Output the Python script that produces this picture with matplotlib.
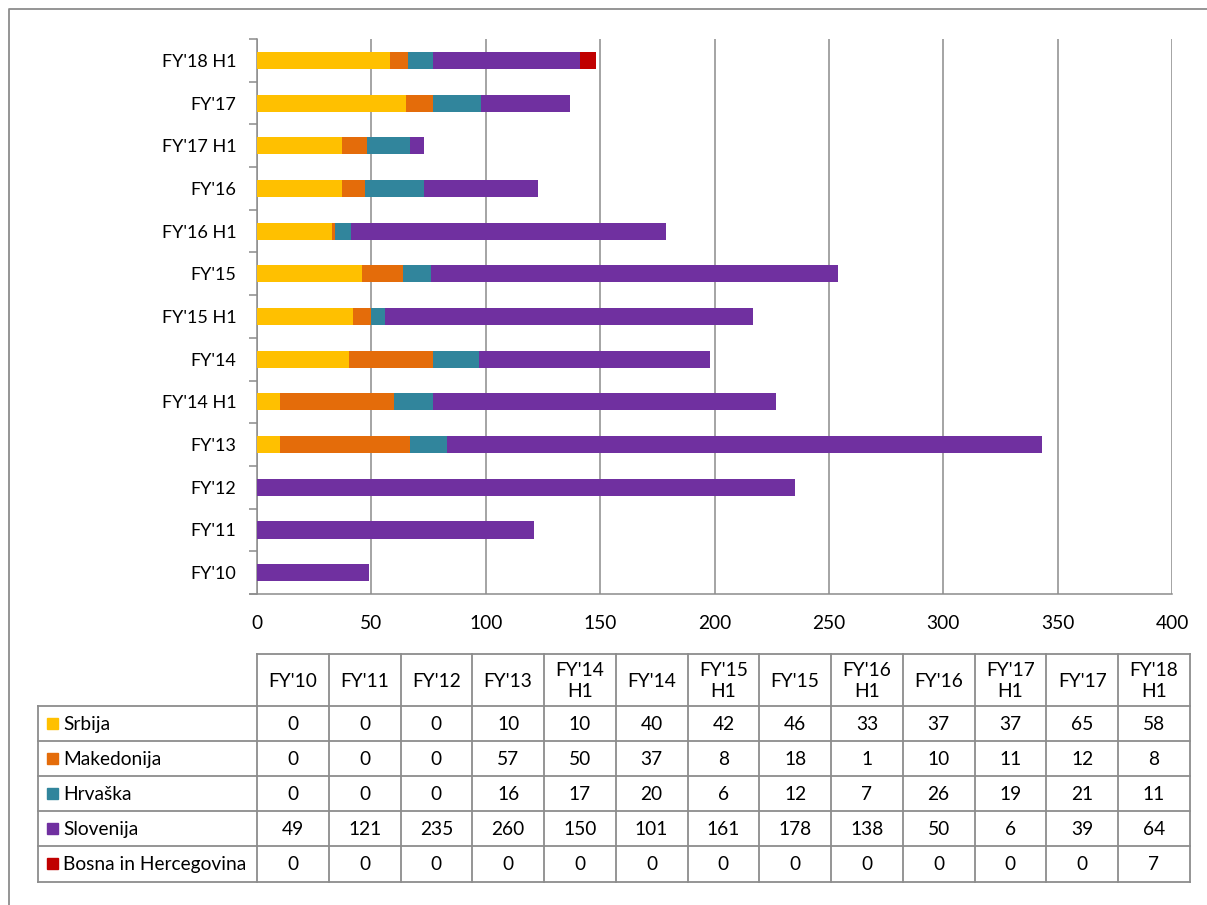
import matplotlib
matplotlib.use("Agg")
import matplotlib.pyplot as plt
from matplotlib.patches import Rectangle
import numpy as np

plt.rcParams['font.family'] = ['Lato', 'DejaVu Sans']

categories = ["FY'10", "FY'11", "FY'12", "FY'13", "FY'14 H1", "FY'14", "FY'15 H1",
              "FY'15", "FY'16 H1", "FY'16", "FY'17 H1", "FY'17", "FY'18 H1"]
header_labels = ["FY'10", "FY'11", "FY'12", "FY'13", "FY'14\nH1", "FY'14", "FY'15\nH1",
                 "FY'15", "FY'16\nH1", "FY'16", "FY'17\nH1", "FY'17", "FY'18\nH1"]
series_names = ["Srbija", "Makedonija", "Hrvaška", "Slovenija", "Bosna in Hercegovina"]
srbija     = [0, 0, 0, 10, 10, 40, 42, 46, 33, 37, 37, 65, 58]
makedonija = [0, 0, 0, 57, 50, 37, 8, 18, 1, 10, 11, 12, 8]
hrvaska    = [0, 0, 0, 16, 17, 20, 6, 12, 7, 26, 19, 21, 11]
slovenija  = [49, 121, 235, 260, 150, 101, 161, 178, 138, 50, 6, 39, 64]
bosna      = [0, 0, 0, 0, 0, 0, 0, 0, 0, 0, 0, 0, 7]
series = [srbija, makedonija, hrvaska, slovenija, bosna]
colors = ["#FFC000", "#E46C0A", "#31859C", "#7030A0", "#C00000"]
x_ticks = [0, 50, 100, 150, 200, 250, 300, 350, 400]

W, H = 1207, 905
fig = plt.figure(figsize=(W / 100, H / 100), dpi=100)
grid_c = "#8C8C8C"
FS = 13
FT = 13.8

# overlay axes in pixel coordinates
ov = fig.add_axes([0, 0, 1, 1])
ov.set_xlim(0, W)
ov.set_ylim(H, 0)
ov.axis('off')
ov.plot([9, 9, W], [H, 9, 9], color="#8C8C8C", lw=1.3, solid_capstyle='butt')

# main chart axes
L, R, T, B = 257, 1172, 39, 594
ax = fig.add_axes([L / W, (H - B) / H, (R - L) / W, (B - T) / H])
n = len(categories)
y = np.arange(n)
left = np.zeros(n)
for vals, c, name in zip(series, colors, series_names):
    ax.barh(y, vals, left=left, height=0.4, color=c, label=name, zorder=3)
    left += np.array(vals)

ax.set_xlim(0, 400)
ax.set_ylim(-0.5, n - 0.5)
ax.set_xticks(x_ticks)
ax.set_xticklabels([str(v) for v in x_ticks], fontsize=FT)
ax.tick_params(axis='x', length=0, pad=15)
ax.grid(axis='x', color=grid_c, lw=1.1, zorder=0)
ax.set_yticks(np.arange(-0.5, n, 1.0))
ax.set_yticklabels([])
ax.set_yticks(y, minor=True)
ax.set_yticklabels(categories, minor=True, fontsize=FS)
ax.tick_params(axis='y', which='major', length=6, color=grid_c, width=1.1, direction='out')
ax.tick_params(axis='y', which='minor', length=0, pad=15)
for s in ['top', 'right']:
    ax.spines[s].set_visible(False)
for s in ['left', 'bottom']:
    ax.spines[s].set_color(grid_c)
    ax.spines[s].set_linewidth(1.1)
ax.spines['bottom'].set_bounds(-400 * 7 / (R - L), 400)
ax.spines['bottom'].set_clip_on(False)

# data table
col_x0 = 257
col_w = 71.75
tbl_left = 38
hdr_top, hdr_bot = 654, 706
row_h = 35.1
n_rows = len(series_names)
tbl_bot = hdr_bot + n_rows * row_h
tbl_right = col_x0 + n * col_w
lw_t = 1.3
for i in range(n + 1):
    xx = col_x0 + i * col_w
    ov.plot([xx, xx], [hdr_top, tbl_bot], color=grid_c, lw=lw_t)
ov.plot([tbl_left, tbl_left], [hdr_bot, tbl_bot], color=grid_c, lw=lw_t)
ov.plot([col_x0, tbl_right], [hdr_top, hdr_top], color=grid_c, lw=lw_t)
for r in range(n_rows + 1):
    yy = hdr_bot + r * row_h
    ov.plot([tbl_left, tbl_right], [yy, yy], color=grid_c, lw=lw_t)
for i, lab in enumerate(header_labels):
    ov.text(col_x0 + (i + 0.5) * col_w, (hdr_top + hdr_bot) / 2 + 1, lab,
            ha='center', va='center', fontsize=FT, linespacing=1.3)
for r, (name, vals, c) in enumerate(zip(series_names, series, colors)):
    yc = hdr_bot + (r + 0.5) * row_h
    ov.add_patch(Rectangle((47, yc - 5.5), 11, 11, color=c))
    ov.text(63, yc + 1, name, ha='left', va='center', fontsize=FT)
    for i, v in enumerate(vals):
        ov.text(col_x0 + (i + 0.5) * col_w, yc + 1, str(v), ha='center', va='center', fontsize=FT)

fig.savefig("out.png", dpi=100)
